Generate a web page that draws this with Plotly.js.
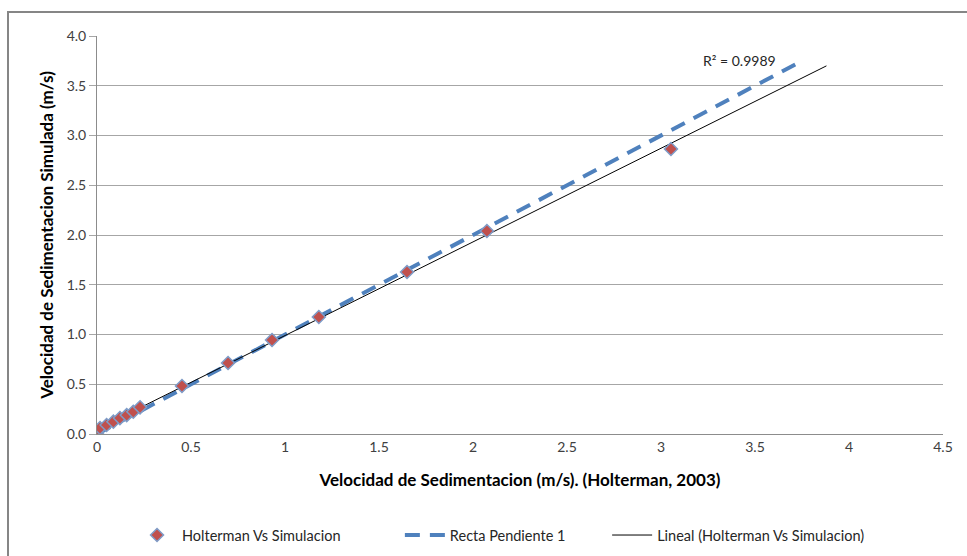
<!DOCTYPE html>
<html>
<head>
<meta charset="utf-8">
<script src="https://cdn.plot.ly/plotly-3.0.1.min.js"></script>
<style>html,body{margin:0;padding:0;background:#fff;}#chart{width:967px;height:556px;}</style>
</head>
<body>
<div id="chart"></div>
<script>
// Data
const holtermanX = [0, 0.016, 0.051, 0.087, 0.122, 0.158, 0.193, 0.229, 0.452, 0.697, 0.931, 1.18, 1.649, 2.074, 3.053];
const simulacionY = [0.01, 0.06, 0.09, 0.124, 0.16, 0.19, 0.224, 0.268, 0.482, 0.714, 0.945, 1.176, 1.628, 2.04, 2.864];
const rectaX = [0, 3.75];
const rectaY = [0, 3.75];
const trendRangeX = [0, 3.88];
const r2Label = 'R² = 0.9989';
const xTicks = [0, 0.5, 1, 1.5, 2, 2.5, 3, 3.5, 4, 4.5];
const xTickText = ['0', '0.5', '1', '1.5', '2', '2.5', '3', '3.5', '4', '4.5'];
const yTicks = [0, 0.5, 1, 1.5, 2, 2.5, 3, 3.5, 4];
const yTickText = ['0.0', '0.5', '1.0', '1.5', '2.0', '2.5', '3.0', '3.5', '4.0'];

// least-squares linear trendline from the data
const n = holtermanX.length;
const mx = holtermanX.reduce((a, b) => a + b, 0) / n;
const my = simulacionY.reduce((a, b) => a + b, 0) / n;
let sxy = 0, sxx = 0;
for (let i = 0; i < n; i++) { sxy += (holtermanX[i] - mx) * (simulacionY[i] - my); sxx += (holtermanX[i] - mx) ** 2; }
const slope = sxy / sxx;
const intercept = my - slope * mx;
const trendY = trendRangeX.map(x => intercept + slope * x);

const font = 'Lato, "Open Sans", sans-serif';

const traces = [
  {
    x: rectaX, y: rectaY, type: 'scatter', mode: 'lines', name: 'Recta Pendiente 1',
    line: {color: '#4F81BD', width: 4, dash: '15px,10px'}, legend: 'legend2'
  },
  {
    x: trendRangeX, y: trendY, type: 'scatter', mode: 'lines', name: 'Lineal (Holterman Vs Simulacion)',
    line: {color: '#000000', width: 1}, legend: 'legend3'
  },
  {
    x: holtermanX, y: simulacionY, type: 'scatter', mode: 'markers', name: 'Holterman Vs Simulacion',
    marker: {symbol: 'diamond', size: 10, color: '#C0504D', line: {color: '#7E9CC8', width: 1.5}}, legend: 'legend'
  }
];

const legendBase = {
  orientation: 'h', xanchor: 'left', y: -0.254, yanchor: 'middle',
  font: {family: font, size: 14.5, color: '#262626'}, itemwidth: 40, bgcolor: 'rgba(0,0,0,0)'
};

const layout = {
  width: 967, height: 556,
  margin: {l: 97, r: 24, t: 36, b: 122, autoexpand: false},
  paper_bgcolor: '#ffffff', plot_bgcolor: '#ffffff',
  font: {family: font, size: 14, color: '#404040'},
  showlegend: true,
  legend: Object.assign({}, legendBase, {x: 0.0414}),
  legend2: Object.assign({}, legendBase, {x: 0.358}),
  legend3: Object.assign({}, legendBase, {x: 0.603}),
  xaxis: {
    range: [0, 4.5], tickvals: xTicks, ticktext: xTickText,
    showgrid: false, zeroline: false, showline: true, linecolor: '#8c8c8c', linewidth: 1,
    ticks: '', tickfont: {family: font, size: 14, color: '#404040'},
    title: {text: 'Velocidad de Sedimentacion (m/s). (Holterman, 2003)', font: {family: font, size: 17, color: '#000000', weight: 'bold'}, standoff: 20}
  },
  yaxis: {
    range: [0, 4], tickvals: yTicks, ticktext: yTickText,
    showgrid: true, gridcolor: '#a6a6a6', gridwidth: 1, zeroline: false,
    showline: true, linecolor: '#8c8c8c', linewidth: 1,
    ticks: 'outside', ticklen: 7, tickcolor: '#a6a6a6',
    tickfont: {family: font, size: 14, color: '#404040'},
    title: {text: 'Velocidad de Sedimentacion Simulada (m/s)', font: {family: font, size: 17, color: '#000000', weight: 'bold'}, standoff: 8}
  },
  annotations: [
    {x: 3.42, y: 3.75, xref: 'x', yref: 'y', text: r2Label, showarrow: false,
     font: {family: font, size: 14, color: '#262626'}, xanchor: 'center', yanchor: 'middle'}
  ],
  shapes: [
    {type: 'path', xref: 'paper', yref: 'paper',
     path: 'M -0.1052,-0.6 L -0.1052,1.0603 L 1.2,1.0603',
     line: {color: '#868686', width: 2}}
  ]
};

Plotly.newPlot('chart', traces, layout, {displayModeBar: false, staticPlot: true});
</script>
</body>
</html>
